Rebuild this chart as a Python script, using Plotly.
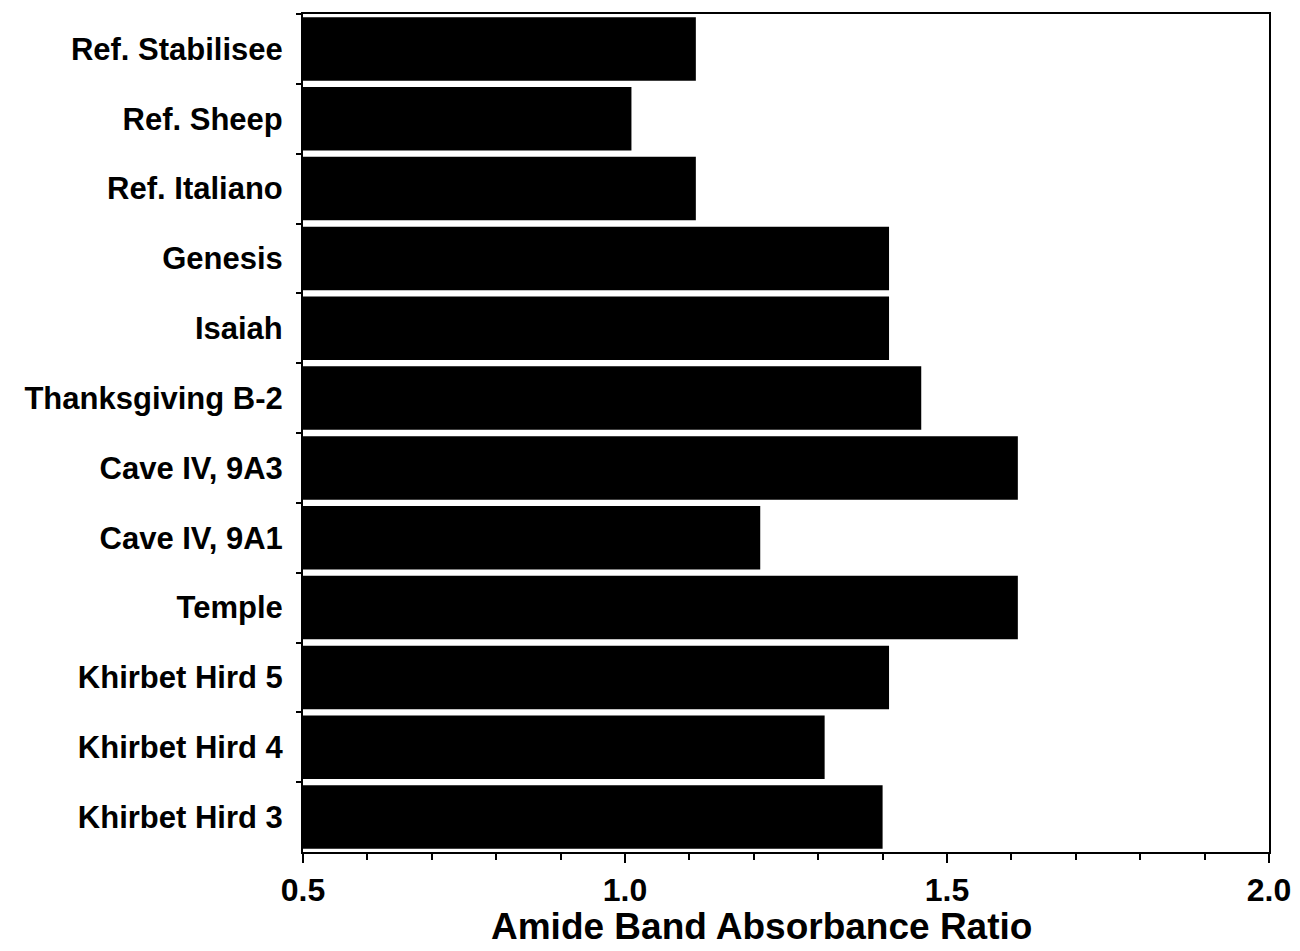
import plotly.graph_objects as go

samples = ["Ref. Stabilisee", "Ref. Sheep", "Ref. Italiano", "Genesis", "Isaiah",
           "Thanksgiving B-2", "Cave IV, 9A3", "Cave IV, 9A1", "Temple",
           "Khirbet Hird 5", "Khirbet Hird 4", "Khirbet Hird 3"]
ratios = [1.11, 1.01, 1.11, 1.41, 1.41, 1.46, 1.61, 1.21, 1.61, 1.41, 1.31, 1.40]
x_ticks = [0.5, 1.0, 1.5, 2.0]
x_tick_labels = ["0.5", "1.0", "1.5", "2.0"]
x_title = "Amide Band Absorbance Ratio"

fig = go.Figure(go.Bar(
    x=ratios, y=samples, orientation="h",
    marker=dict(color="black", line=dict(width=0)),
))

font_family = "Liberation Sans, Arial, sans-serif"
fig.update_layout(
    width=1300, height=951,
    margin=dict(l=295, r=39, t=6, b=107),
    paper_bgcolor="white", plot_bgcolor="white",
    bargap=0.09,
    showlegend=False,
    font=dict(family=font_family, color="black", size=22, weight="bold"),
)
fig.update_xaxes(
    range=[0.5, 2.0], automargin=False,
    tickvals=x_ticks, ticktext=x_tick_labels,
    ticks="outside", ticklen=9, tickwidth=2, tickcolor="black",
    minor=dict(dtick=0.1, ticks="outside", ticklen=6, tickwidth=2, tickcolor="black"),
    showline=True, linecolor="black", linewidth=2, mirror=True,
    showgrid=False, zeroline=False,
    tickfont=dict(size=32, family=font_family, weight="bold"),
    ticklabelstandoff=0,
)
fig.update_yaxes(
    categoryorder="array", categoryarray=samples, autorange="reversed",
    automargin=False,
    ticks="outside", tickson="boundaries", ticklen=5, tickwidth=2, tickcolor="black",
    showline=True, linecolor="black", linewidth=2, mirror=True,
    showgrid=False,
    tickfont=dict(size=31, family=font_family, weight="bold"),
    ticklabelstandoff=12,
)
fig.add_annotation(
    text=x_title, xref="paper", yref="paper", x=0.4746, y=-0.0885,
    xanchor="center", yanchor="middle", showarrow=False,
    font=dict(size=37, family=font_family, weight="bold", color="black"),
)

fig.write_html("out.html")
